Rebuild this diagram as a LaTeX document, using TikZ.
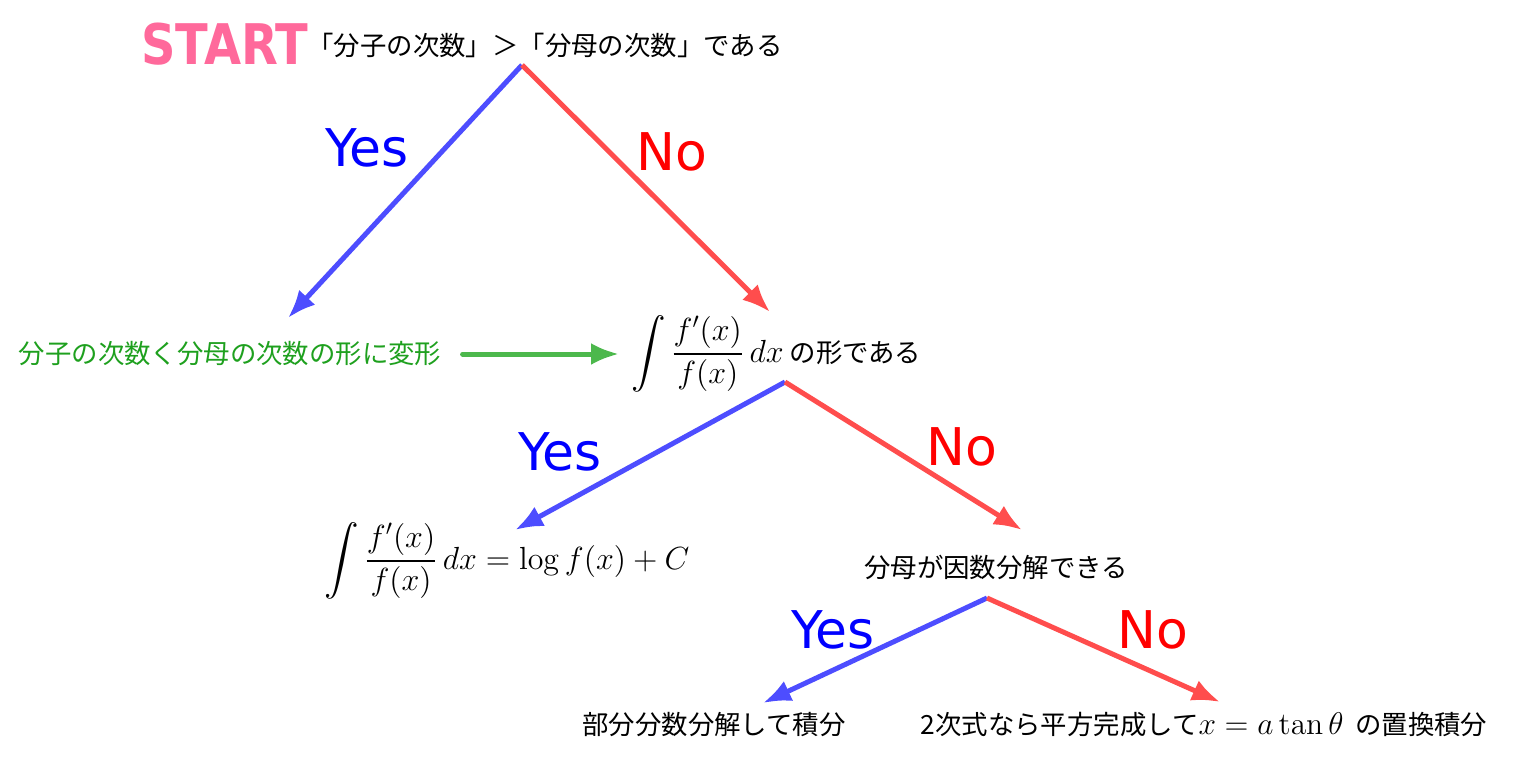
\RequirePackage{fix-cm}
\documentclass[tikz,border=0pt]{standalone}
\usepackage[no-math]{fontspec}
\usepackage{amsmath}
\setmainfont{Noto Sans CJK JP}
\newfontfamily\latinsans{DejaVu Sans}
\newfontfamily\startfont{DejaVu Sans Condensed Bold}
\newcommand{\mathsz}{\fontsize{16pt}{18pt}\selectfont}
\usetikzlibrary{arrows.meta}
\definecolor{startpink}{RGB}{255,105,155}
\definecolor{yesline}{RGB}{77,77,255}
\definecolor{noline}{RGB}{255,77,77}
\definecolor{convline}{RGB}{76,184,76}
\definecolor{convtext}{RGB}{30,160,30}
\tikzstyle{jp}=[inner sep=0pt,font=\fontsize{13.2pt}{15pt}\selectfont]
\tikzstyle{lbl}=[inner sep=0pt,font=\fontsize{26pt}{30pt}\latinsans]
\tikzstyle{yesarr}=[draw=yesline,line width=2.5pt,-{Latex[length=14pt,width=11pt]}]
\tikzstyle{noarr}=[draw=noline,line width=2.5pt,-{Latex[length=14pt,width=11pt]}]

\begin{document}
\begin{tikzpicture}[x=0.5pt,y=-0.5pt]
\useasboundingbox (0,0) rectangle (1536,771);
\node[inner sep=0pt,text=startpink,xscale=0.95,font=\fontsize{28pt}{32pt}\startfont] (start) at (225,44) {START};
\node[jp] (q1) at (545,45) {「分子の次数」＞「分母の次数」である};
\coordinate (v1) at (522,65); \coordinate (e1) at (288,318); \coordinate (e2) at (770,312);
\node[lbl,text=blue] (yes1) at (367,148) {Yes};
\node[lbl,text=red] (no1) at (672,152) {No};
\node[jp,text=convtext] (conv) at (230,354) {分子の次数く分母の次数の形に変形};
\node[jp,anchor=west] (q2) at (631,354) {{\mathsz$\displaystyle\int\frac{f'(x)}{f(x)}\,dx$}\ の形である};
\coordinate (v2) at (785,382); \coordinate (e3) at (515,530); \coordinate (e4) at (1022,530);
\node[lbl,text=blue] (yes2) at (560,452) {Yes};
\node[lbl,text=red] (no2) at (962,447) {No};
\node[jp] (r1) at (507,561) {\mathsz$\displaystyle\int\frac{f'(x)}{f(x)}\,dx=\log f(x)+C$};
\node[jp] (q3) at (996,567) {分母が因数分解できる};
\coordinate (v3) at (987,598); \coordinate (e5) at (763,703); \coordinate (e6) at (1220,702);
\node[lbl,text=blue] (yes3) at (833,630) {Yes};
\node[lbl,text=red] (no3) at (1153,630) {No};
\node[jp] (r2) at (714,725) {部分分数分解して積分};
\node[jp] (r3) at (1204,725) {2次式なら平方完成して{\fontsize{15.7pt}{18pt}\selectfont$x=a\tan\theta$}\ \ の置換積分};
\draw[yesarr] (v1) -- (e1);
\draw[noarr] (v1) -- (e2);
\draw[draw=convline,line width=2.5pt,line cap=round,-{Latex[length=14pt,width=11pt]},shorten <=10.5pt,shorten >=6pt] (conv) -- (q2);
\draw[yesarr] (v2) -- (e3);
\draw[noarr] (v2) -- (e4);
\draw[yesarr] (v3) -- (e5);
\draw[noarr] (v3) -- (e6);
\end{tikzpicture}
\end{document}
